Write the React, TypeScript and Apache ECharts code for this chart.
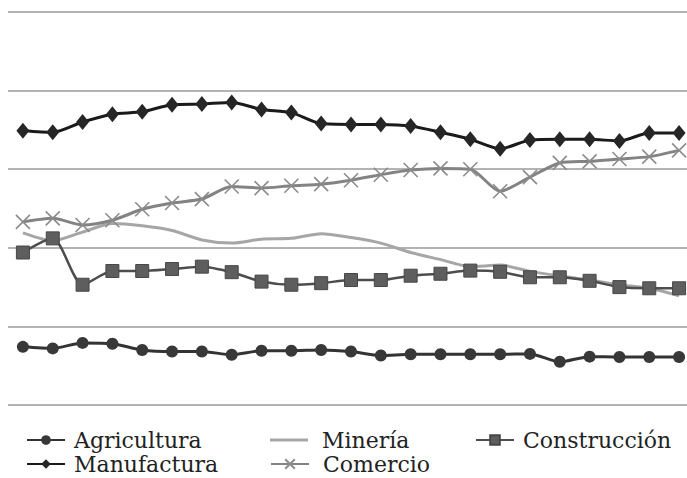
import React, { useEffect, useRef } from "react";
import * as echarts from "echarts";

const categories = Array.from({ length: 23 }, (_, i) => String(i + 1));

const agricultura = [7.4, 7.2, 7.9, 7.8, 7.0, 6.8, 6.8, 6.4, 6.9, 6.9, 7.0, 6.8, 6.3, 6.45, 6.45, 6.45, 6.45, 6.5, 5.5, 6.15, 6.1, 6.1, 6.1];
const manufactura = [34.9, 34.7, 36.0, 37.0, 37.3, 38.2, 38.3, 38.5, 37.6, 37.2, 35.8, 35.7, 35.7, 35.5, 34.7, 33.8, 32.6, 33.7, 33.8, 33.8, 33.6, 34.6, 34.6];
const mineria = [21.9, 20.9, 22.0, 23.1, 22.8, 22.2, 21.0, 20.6, 21.1, 21.2, 21.8, 21.3, 20.6, 19.4, 18.5, 17.6, 17.8, 17.0, 16.4, 15.9, 15.3, 14.85, 13.9];
const comercio = [23.3, 23.75, 22.9, 23.5, 24.9, 25.7, 26.2, 27.8, 27.6, 27.9, 28.1, 28.6, 29.3, 29.9, 30.1, 30.0, 27.2, 29.0, 30.8, 31.0, 31.3, 31.6, 32.4];
const construccion = [19.4, 21.2, 15.3, 17.05, 17.05, 17.3, 17.6, 16.9, 15.7, 15.3, 15.5, 15.9, 15.9, 16.45, 16.7, 17.1, 16.95, 16.25, 16.25, 15.8, 15.0, 14.85, 14.85];

const X_SYMBOL = "path://M0,0L10,10M10,0L0,10";

export default function App() {
  const ref = useRef<HTMLDivElement>(null);
  useEffect(() => {
    if (!ref.current) return;
    const chart = echarts.init(ref.current, undefined, { renderer: "svg" });
    const font = "DejaVu Serif";
    const smooth = 0.25;
    const row1 = 428;
    const row2 = 452;
    const textStyle = { fontFamily: font, fontSize: 22, color: "#222", lineHeight: 24, padding: [0, 0, 0, 4] };
    const legendCommon = {
      orient: "horizontal",
      padding: 0,
      height: 24,
      itemWidth: 38,
      itemHeight: 12,
      itemGap: 0,
      textStyle,
    };
    chart.setOption({
      animation: false,
      backgroundColor: "#ffffff",
      textStyle: { fontFamily: font },
      grid: { left: 8, right: 0, top: 12, bottom: 73, containLabel: false },
      xAxis: {
        type: "category",
        data: categories,
        boundaryGap: true,
        axisLine: { show: false },
        axisTick: { show: false },
        axisLabel: { show: false },
        splitLine: { show: false },
      },
      yAxis: {
        type: "value",
        min: 0,
        max: 50,
        interval: 10,
        axisLine: { show: false },
        axisTick: { show: false },
        axisLabel: { show: false },
        splitLine: { show: true, lineStyle: { color: "#b3b3b3", width: 2 } },
      },
      legend: [
        { ...legendCommon, left: 26, top: row1, data: ["Agricultura"] },
        { ...legendCommon, left: 26, top: row2, data: ["Manufactura"] },
        {
          ...legendCommon,
          left: 270,
          top: row1,
          itemHeight: 3,
          icon: "rect",
          itemStyle: { color: "#a6a6a6" },
          textStyle: { ...textStyle, padding: [0, 0, 0, 9] },
          data: ["Minería"],
        },
        {
          ...legendCommon,
          left: 270,
          top: row2,
          textStyle: { ...textStyle, padding: [0, 0, 0, 9] },
          data: ["Comercio"],
        },
        { ...legendCommon, left: 475, top: row1, data: ["Construcción"] },
      ],
      series: [
        {
          name: "Agricultura",
          type: "line",
          data: agricultura,
          smooth,
          symbol: "circle",
          symbolSize: 12,
          itemStyle: { color: "#383838" },
          lineStyle: { color: "#333333", width: 3 },
        },
        {
          name: "Manufactura",
          type: "line",
          data: manufactura,
          smooth,
          symbol: "diamond",
          symbolSize: [13, 16],
          itemStyle: { color: "#262626" },
          lineStyle: { color: "#1a1a1a", width: 3 },
        },
        {
          name: "Minería",
          type: "line",
          data: mineria,
          smooth,
          symbol: "none",
          itemStyle: { color: "#a6a6a6" },
          lineStyle: { color: "#a6a6a6", width: 3 },
        },
        {
          name: "Comercio",
          type: "line",
          data: comercio,
          smooth,
          symbol: X_SYMBOL,
          symbolSize: 14,
          itemStyle: { color: "transparent", borderColor: "#8c8c8c", borderWidth: 1.6 },
          lineStyle: { color: "#838383", width: 3 },
        },
        {
          name: "Construcción",
          type: "line",
          data: construccion,
          smooth,
          symbol: "rect",
          symbolSize: 13,
          itemStyle: { color: "#5e5e5e", borderColor: "#474747", borderWidth: 1 },
          lineStyle: { color: "#4d4d4d", width: 2.5 },
        },
      ],
    });
    return () => chart.dispose();
  }, []);
  return (
    <div style={{ position: "fixed", left: 0, top: 0, width: 687, height: 478, overflow: "hidden" }}>
      <div ref={ref} style={{ width: 694, height: 478 }} />
    </div>
  );
}
